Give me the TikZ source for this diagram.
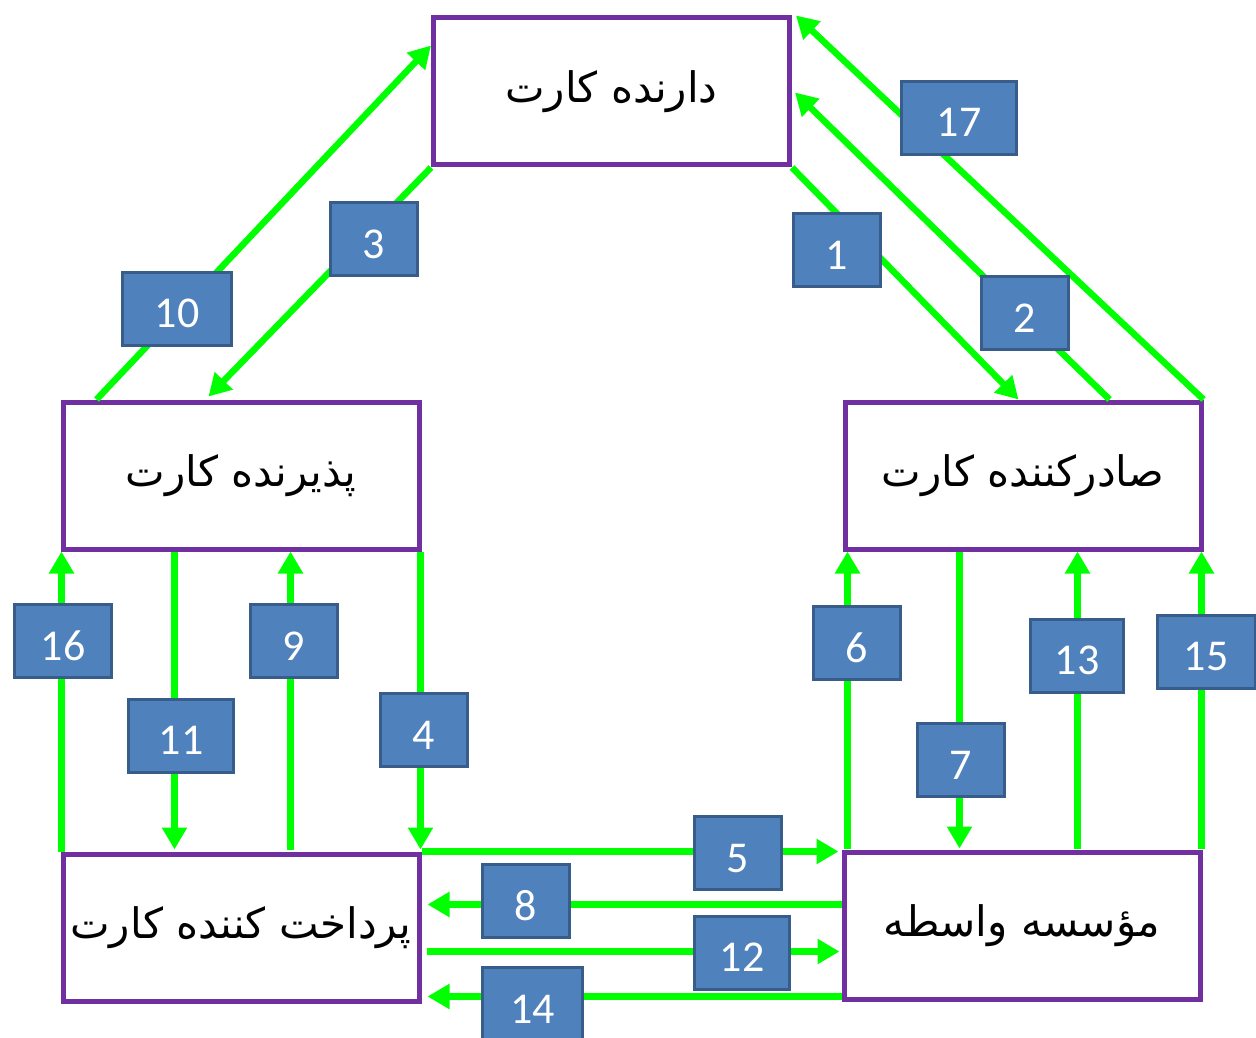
\documentclass[tikz,border=0pt]{standalone}
\usepackage{fontspec}
\usetikzlibrary{arrows.meta}
\TeXXeTstate=1
\newfontfamily\fafont[Script=Arabic]{DejaVu Sans}
\newfontfamily\numfont{Carlito}
\definecolor{boxpurple}{HTML}{7030A0}
\definecolor{arrgreen}{HTML}{00FF00}
\definecolor{lblfill}{HTML}{4F81BD}
\definecolor{lbldraw}{HTML}{385D8A}
\begin{document}
\begin{tikzpicture}[x=1pt,y=-1pt,
  party/.style={draw=boxpurple,line width=5pt,fill=white,minimum width=356pt,minimum height=147pt,inner sep=0pt,font=\fafont\fontsize{42}{48}\selectfont},
  arr/.style={draw=arrgreen,line width=6.5pt,-{Triangle[length=22pt,width=24pt]}},
  lbl/.style={draw=lbldraw,fill=lblfill,line width=3pt,text=white,minimum width=87pt,minimum height=73pt,inner sep=0pt,font=\numfont\fontsize{44}{50}\selectfont,text height=38pt,text depth=0pt}]
\useasboundingbox (0,0) rectangle (1256,1038);
\node[party] (holder) at (611.5,91.5) {\beginR دارنده کارت\endR};
\node[party] (acc) at (241,475.5) {\beginR پذیرنده کارت\endR};
\node[party] (iss) at (1023,475.5) {\beginR صادرکننده کارت\endR};
\node[party] (payer) at (241,927.5) {\beginR پرداخت کننده کارت\endR};
\node[party] (inter) at (1022,925.5) {\beginR مؤسسه واسطه\endR};
% diagonal arrows
\draw[arr] ([xshift=36pt]acc.north west) -- ([yshift=-30pt]holder.north west);
\draw[arr] (holder.south west) -- ([xshift=148pt,yshift=3pt]acc.north west);
\draw[arr] (holder.south east) -- ([xshift=176pt]iss.north west);
\draw[arr] ([xshift=267pt]iss.north west) -- ([xshift=3pt,yshift=-77pt]holder.north east);
\draw[arr] (iss.north east) -- ([xshift=4pt]holder.north east);
% left verticals
\draw[arr] ([xshift=1pt]payer.north west) -- ([xshift=1pt]acc.south west);
\draw[arr] ([xshift=114pt]acc.south west) -- ([xshift=114pt,yshift=2pt]payer.north west);
\draw[arr] ([xshift=230pt,yshift=2pt]payer.north west) -- ([xshift=230pt]acc.south west);
\draw[arr] ([xshift=-1pt]acc.south east) -- ([xshift=-1pt,yshift=2pt]payer.north east);
% right verticals
\draw[arr] ([xshift=6pt,yshift=1pt]inter.north west) -- ([xshift=5pt]iss.south west);
\draw[arr] ([xshift=117pt]iss.south west) -- ([xshift=118pt,yshift=1pt]inter.north west);
\draw[arr] ([xshift=236pt,yshift=1pt]inter.north west) -- ([xshift=235pt]iss.south west);
\draw[arr] ([xshift=-1pt,yshift=1pt]inter.north east) -- ([xshift=-2pt]iss.south east);
% horizontals
\draw[arr] (payer.north east) -- ([xshift=-3pt,yshift=-2pt]inter.north west);
\draw[arr] ([yshift=-55pt]inter.north west) -- ([xshift=6pt,yshift=-53pt]payer.north east);
\draw[arr] ([xshift=5pt,yshift=-100pt]payer.north east) -- ([xshift=-2pt,yshift=-102pt]inter.north west);
\draw[arr] ([yshift=-147pt]inter.north west) -- ([xshift=6pt,yshift=-145pt]payer.north east);
% labels
\node[lbl,minimum width=115pt] (l17) at (959,118) {17};
\node[lbl] (l1) at (837,250) {1};
\node[lbl] (l2) at (1025,313) {2};
\node[lbl] (l3) at (373.5,239) {3};
\node[lbl,minimum width=109pt] (l10) at (177,308.5) {10};
\node[lbl,minimum width=97pt] (l16) at (63,641) {16};
\node[lbl] (l9) at (294,641) {9};
\node[lbl,minimum width=105pt] (l11) at (181,735.5) {11};
\node[lbl] (l4) at (424,730) {4};
\node[lbl] (l6) at (857,643) {6};
\node[lbl,minimum width=93pt] (l13) at (1077,655.5) {13};
\node[lbl,minimum width=98pt] (l15) at (1206,651.5) {15};
\node[lbl] (l7) at (961,760) {7};
\node[lbl] (l5) at (738,853) {5};
\node[lbl] (l8) at (526,901) {8};
\node[lbl,minimum width=95pt] (l12) at (742,952.5) {12};
\node[lbl,minimum width=100pt] (l14) at (532.5,1004) {14};
\end{tikzpicture}
\end{document}
